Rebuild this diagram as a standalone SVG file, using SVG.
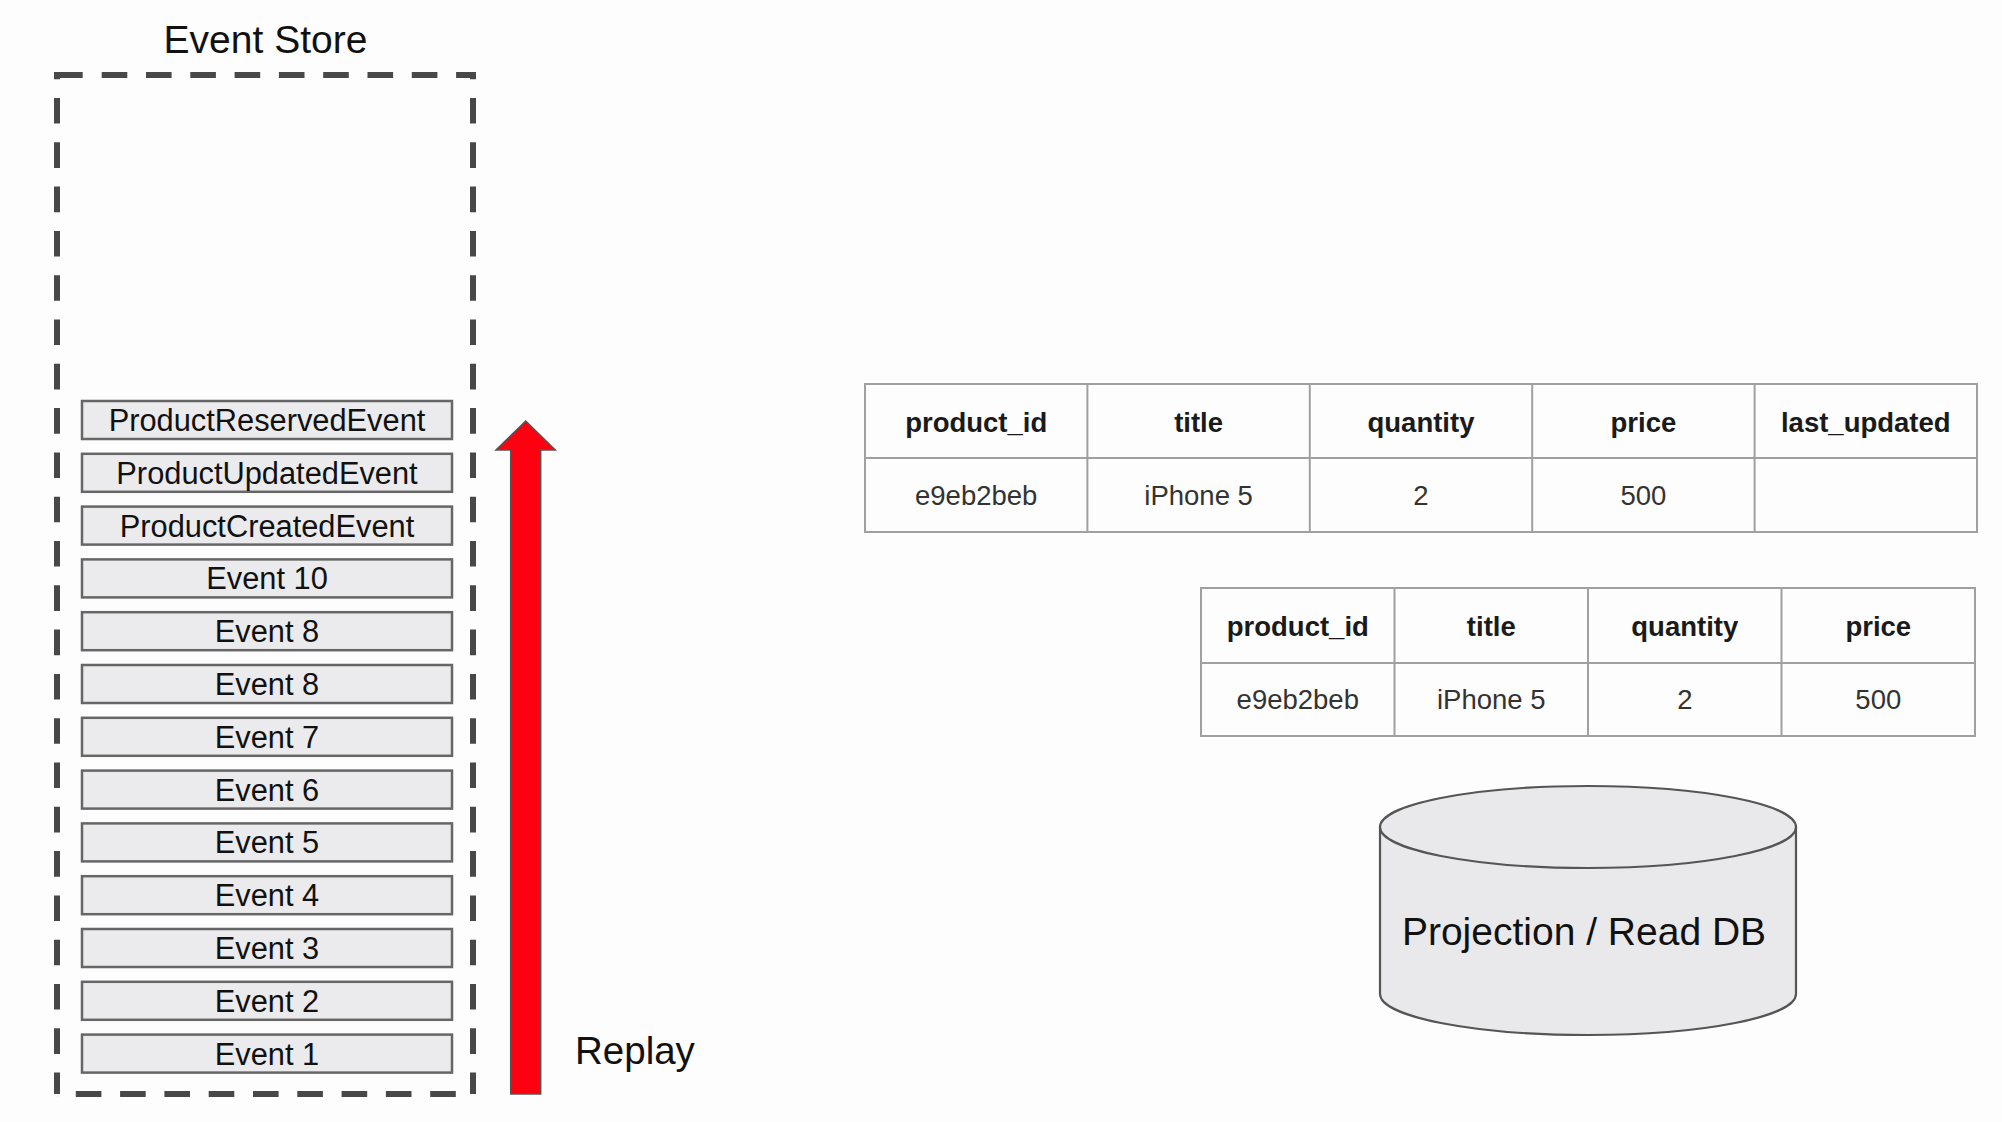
<svg xmlns="http://www.w3.org/2000/svg" width="2002" height="1122" viewBox="0 0 2002 1122">
  <style>
    .title { font-family: "Liberation Sans", Arial, sans-serif; font-size: 39px; fill: #111; text-anchor: middle; }
    .evt rect { fill: #ebebed; stroke: #666; stroke-width: 2.5; }
    .evt text { font-family: "Liberation Sans", Arial, sans-serif; font-size: 30.8px; fill: #111; text-anchor: middle; }
    .dash { fill: none; stroke: #484848; stroke-width: 6; stroke-linecap: butt; }
    .vdash { stroke-dasharray: 25.6 18.7; stroke-dashoffset: 21.3; }
    .grid { fill: none; stroke: #a0a0a0; stroke-width: 2; }
    .th { font-family: "Liberation Sans", Arial, sans-serif; font-size: 27.5px; font-weight: bold; fill: #1a1a1a; text-anchor: middle; }
    .td { font-family: "Liberation Sans", Arial, sans-serif; font-size: 27.5px; fill: #333; text-anchor: middle; }
    .db { fill: #e9e9eb; stroke: #555; stroke-width: 2.2; }
  </style>
  <rect x="0" y="0" width="2002" height="1122" fill="#fdfdfd"/>

  <g id="event-store">
    <text class="title" x="265.5" y="53">Event Store</text>
    <line class="dash" x1="54" y1="75" x2="476" y2="75" stroke-dasharray="28.7 19 25.6 18.7 25.6 18.7 25.6 18.7 25.6 18.7 25.6 18.7 25.6 18.7 25.6 18.7 25.6 18.7 25.6 200"/>
    <line class="dash vdash" x1="57" y1="75" x2="57" y2="1094"/>
    <line class="dash vdash" x1="473" y1="75" x2="473" y2="1094"/>
    <line class="dash" x1="57" y1="1094" x2="473" y2="1094" stroke-dasharray="25.6 18.7" stroke-dashoffset="25.5"/>
  </g>

  <g id="evt-product-reserved" class="evt"><rect x="82" y="401" width="370" height="38"/><text x="267" y="431">ProductReservedEvent</text></g>
  <g id="evt-product-updated" class="evt"><rect x="82" y="453.8" width="370" height="38"/><text x="267" y="483.8">ProductUpdatedEvent</text></g>
  <g id="evt-product-created" class="evt"><rect x="82" y="506.6" width="370" height="38"/><text x="267" y="536.6">ProductCreatedEvent</text></g>
  <g id="evt-10" class="evt"><rect x="82" y="559.4" width="370" height="38"/><text x="267" y="589.4">Event 10</text></g>
  <g id="evt-8a" class="evt"><rect x="82" y="612.2" width="370" height="38"/><text x="267" y="642.2">Event 8</text></g>
  <g id="evt-8b" class="evt"><rect x="82" y="665" width="370" height="38"/><text x="267" y="695">Event 8</text></g>
  <g id="evt-7" class="evt"><rect x="82" y="717.8" width="370" height="38"/><text x="267" y="747.8">Event 7</text></g>
  <g id="evt-6" class="evt"><rect x="82" y="770.6" width="370" height="38"/><text x="267" y="800.6">Event 6</text></g>
  <g id="evt-5" class="evt"><rect x="82" y="823.4" width="370" height="38"/><text x="267" y="853.4">Event 5</text></g>
  <g id="evt-4" class="evt"><rect x="82" y="876.2" width="370" height="38"/><text x="267" y="906.2">Event 4</text></g>
  <g id="evt-3" class="evt"><rect x="82" y="929" width="370" height="38"/><text x="267" y="959">Event 3</text></g>
  <g id="evt-2" class="evt"><rect x="82" y="981.8" width="370" height="38"/><text x="267" y="1011.8">Event 2</text></g>
  <g id="evt-1" class="evt"><rect x="82" y="1034.6" width="370" height="38"/><text x="267" y="1064.6">Event 1</text></g>

  <g id="connectors">
    <g id="replay-arrow">
      <polygon points="525.7,421 555.3,450 540.7,450 540.7,1094 510.7,1094 510.7,450 496,450" fill="#ff0010" stroke="#555" stroke-width="1.5" stroke-linejoin="miter"/>
      <text x="575" y="1063.5" font-family="'Liberation Sans', Arial, sans-serif" font-size="38.5" fill="#111">Replay</text>
    </g>
  </g>

  <g id="table-old">
    <rect class="grid" x="865" y="384" width="1112" height="148"/>
    <line class="grid" x1="865" y1="458" x2="1977" y2="458"/>
    <line class="grid" x1="1087.4" y1="384" x2="1087.4" y2="532"/>
    <line class="grid" x1="1309.8" y1="384" x2="1309.8" y2="532"/>
    <line class="grid" x1="1532.2" y1="384" x2="1532.2" y2="532"/>
    <line class="grid" x1="1754.6" y1="384" x2="1754.6" y2="532"/>
    <text class="th" x="976.2" y="432">product_id</text>
    <text class="th" x="1198.6" y="432">title</text>
    <text class="th" x="1421" y="432">quantity</text>
    <text class="th" x="1643.4" y="432">price</text>
    <text class="th" x="1865.8" y="432">last_updated</text>
    <text class="td" x="976.2" y="505">e9eb2beb</text>
    <text class="td" x="1198.6" y="505">iPhone 5</text>
    <text class="td" x="1421" y="505">2</text>
    <text class="td" x="1643.4" y="505">500</text>
  </g>

  <g id="table-new">
    <rect class="grid" x="1201" y="588" width="774" height="148"/>
    <line class="grid" x1="1201" y1="663" x2="1975" y2="663"/>
    <line class="grid" x1="1394.5" y1="588" x2="1394.5" y2="736"/>
    <line class="grid" x1="1588" y1="588" x2="1588" y2="736"/>
    <line class="grid" x1="1781.5" y1="588" x2="1781.5" y2="736"/>
    <text class="th" x="1297.8" y="635.5">product_id</text>
    <text class="th" x="1491.3" y="635.5">title</text>
    <text class="th" x="1684.8" y="635.5">quantity</text>
    <text class="th" x="1878.3" y="635.5">price</text>
    <text class="td" x="1297.8" y="709">e9eb2beb</text>
    <text class="td" x="1491.3" y="709">iPhone 5</text>
    <text class="td" x="1684.8" y="709">2</text>
    <text class="td" x="1878.3" y="709">500</text>
  </g>

  <g id="read-db">
    <path class="db" d="M1380,827 V994 A208,41 0 0 0 1796,994 V827 Z"/>
    <ellipse class="db" cx="1588" cy="827" rx="208" ry="41"/>
    <text x="1584" y="945" font-family="'Liberation Sans', Arial, sans-serif" font-size="39" fill="#111" text-anchor="middle">Projection / Read DB</text>
  </g>
</svg>
